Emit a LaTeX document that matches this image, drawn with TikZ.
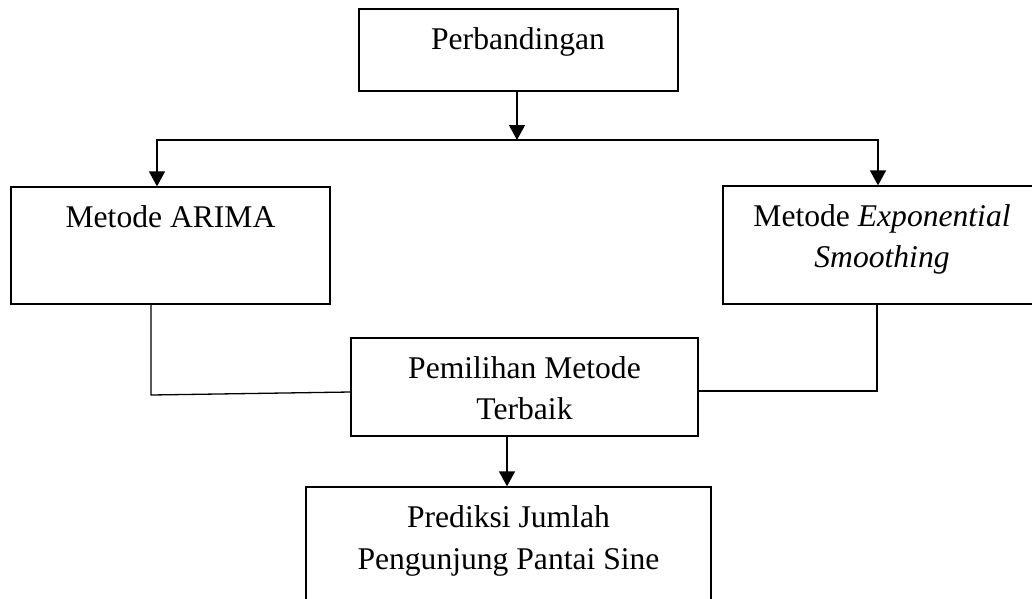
\documentclass[tikz,border=0pt]{standalone}
\usepackage{fontspec}
\setmainfont{Liberation Serif}
\usetikzlibrary{arrows.meta}
\tikzset{
  box/.style={draw=black, line width=1.3pt, rectangle, inner sep=0pt},
  txt/.style={font=\fontsize{31.6}{41}\selectfont, inner sep=0pt, align=center, anchor=base},
  arr/.style={line width=1.3pt, -{Triangle[length=15pt,width=16pt]}},
  conn/.style={line width=1.3pt}
}
\begin{document}
\begin{tikzpicture}[x=1pt,y=-1pt]
\clip (0,0) rectangle (1032,598);
\fill[white] (0,0) rectangle (1032,598);
% boxes
\node[box, minimum width=319pt, minimum height=82pt] (perb) at (518.5,50) {};
\node[box, minimum width=319pt, minimum height=117pt] (arima) at (170.5,245.5) {};
\node[box, minimum width=318pt, minimum height=118pt] (expo) at (882,245) {};
\node[box, minimum width=347pt, minimum height=98pt] (pilih) at (524.5,387) {};
\node[box, minimum width=405pt, minimum height=132pt] (pred) at (508.5,553) {};
% texts
\node[txt] (tperb) at (518,49) {Perbandingan};
\node[txt] (tarima) at (170.5,227) {Metode ARIMA};
\node[txt] (texpo1) at (882,226) {Metode \textit{Exponential}};
\node[txt] (texpo2) at (882,267) {\textit{Smoothing}};
\node[txt] (tpilih1) at (524.5,378) {Pemilihan Metode};
\node[txt] (tpilih2) at (524.5,419) {Terbaik};
\node[txt] (tpred1) at (508.5,527) {Prediksi Jumlah};
\node[txt] (tpred2) at (508.5,569) {Pengunjung Pantai Sine};
% junction coordinates
\coordinate (j) at (517,140);
\coordinate (ja) at (157,140);
\coordinate (je) at (878,140);
\coordinate (cl) at (151,395);
\coordinate (clm) at (0,392);
\coordinate (cr) at (877,391);
\coordinate (pa) at (507,0);
% connectors
\draw[arr] (perb.south -| j) -- (j);
\draw[arr] (j) -| (ja |- arima.north);
\draw[arr] (j) -| (je |- expo.north);
\draw[conn] (arima.south -| cl) -- (cl) -- (pilih.west |- clm);
\draw[conn] (expo.south -| cr) -- (cr) -- (pilih.east |- cr);
\draw[arr] (pilih.south -| pa) -- (pred.north -| pa);
\end{tikzpicture}
\end{document}
